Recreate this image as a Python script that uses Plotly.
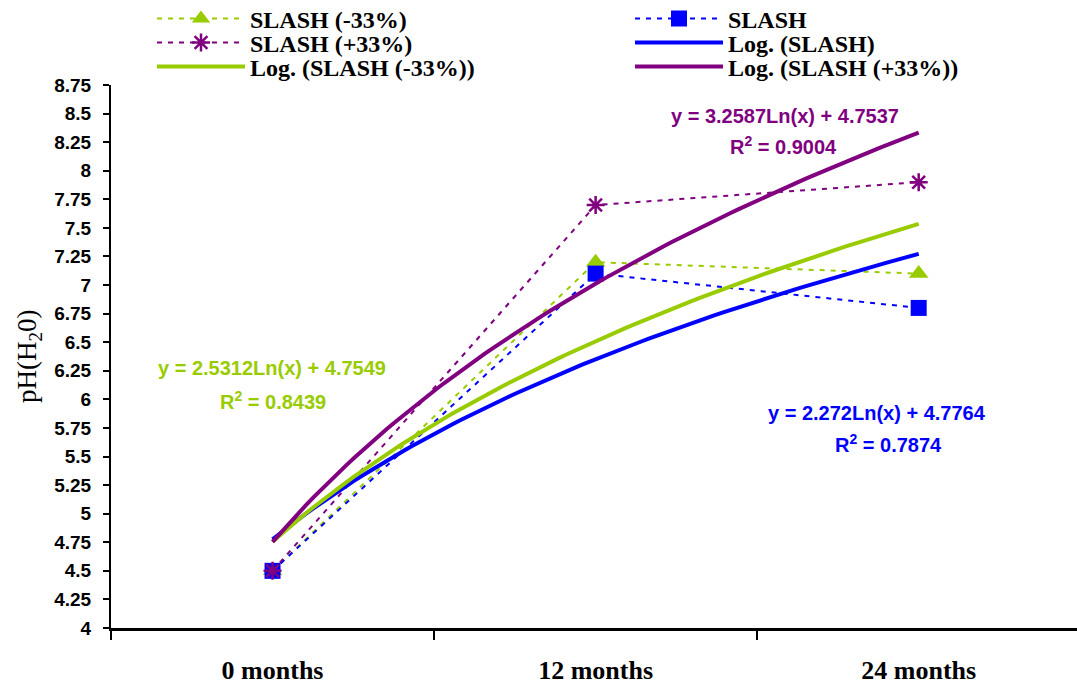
import numpy as np
import plotly.graph_objects as go

categories = ["0 months", "12 months", "24 months"]
x_pos = [1, 2, 3]
slash_minus = [4.5, 7.2, 7.1]
slash = [4.5, 7.1, 6.8]
slash_plus = [4.5, 7.7, 7.9]

# logarithmic trendline coefficients (y = a ln(x) + b) as printed on chart
trend_a = {"SLASH": 2.272, "SLASH (-33%)": 2.5312, "SLASH (+33%)": 3.2587}
trend_b = {"SLASH": 4.7764, "SLASH (-33%)": 4.7549, "SLASH (+33%)": 4.7537}
r2 = {"SLASH": 0.7874, "SLASH (-33%)": 0.8439, "SLASH (+33%)": 0.9004}

GREEN = "#99CC00"
BLUE = "#0000FF"
PURPLE = "#800080"

W, H = 1077, 689
L, R, T, B = 111, 0, 85, 61
PW, PH = W - L - R, H - T - B

fig = go.Figure()

dash = "5px,6px"
fig.add_trace(go.Scatter(x=x_pos, y=slash_minus, mode="lines+markers", name="SLASH (-33%)",
                         line=dict(color=GREEN, width=2, dash=dash),
                         marker=dict(symbol="triangle-up", size=17, color=GREEN),
                         legend="legend"))
fig.add_trace(go.Scatter(x=x_pos, y=slash, mode="lines+markers", name="SLASH",
                         line=dict(color=BLUE, width=2, dash=dash),
                         marker=dict(symbol="square", size=16, color=BLUE),
                         legend="legend2"))
fig.add_trace(go.Scatter(x=x_pos, y=slash_plus, mode="lines+markers", name="SLASH (+33%)",
                         line=dict(color=PURPLE, width=2, dash=dash),
                         marker=dict(symbol="asterisk-open", size=15, color=PURPLE,
                                     line=dict(color=PURPLE, width=2.5)),
                         legend="legend3"))

xs = np.linspace(1, 3, 80)
for key, col, leg in [("SLASH", BLUE, "legend4"), ("SLASH (-33%)", GREEN, "legend5"),
                      ("SLASH (+33%)", PURPLE, "legend6")]:
    ys = trend_a[key] * np.log(xs) + trend_b[key]
    fig.add_trace(go.Scatter(x=xs, y=ys, mode="lines", name=f"Log. ({key})",
                             line=dict(color=col, width=4), legend=leg))

ann_font = dict(family="Liberation Sans, Arial", size=20)
def eq_ann(key, col, x, y1, y2, x2=None):
    fig.add_annotation(x=x, y=y1, xref="x", yref="y", showarrow=False,
                       text=f"<b>y = {trend_a[key]}Ln(x) + {trend_b[key]}</b>",
                       font=dict(ann_font, color=col))
    fig.add_annotation(x=x2 if x2 is not None else x, y=y2, xref="x", yref="y", showarrow=False,
                       text=f"<b>R<sup>2</sup> = {r2[key]:.4f}</b>",
                       font=dict(ann_font, color=col))

eq_ann("SLASH (+33%)", PURPLE, 2.587, 8.479, 8.225, 2.58)
eq_ann("SLASH (-33%)", GREEN, 0.998, 6.274, 5.994, 1.0)
eq_ann("SLASH", BLUE, 2.871, 5.880, 5.618, 2.906)

# y-axis title
fig.add_annotation(x=(10 - L) / PW, y=(H - B - 357) / PH, xref="paper", yref="paper",
                   text="pH(H<sub>2</sub>0)", textangle=-90, showarrow=False,
                   font=dict(family="Liberation Serif, Times New Roman", size=27, color="black"))

leg_font = dict(family="Liberation Serif, Times New Roman", size=24, color="black")

def leg(px, py):
    return dict(x=(px - L) / PW, y=(H - B - py) / PH, xanchor="left", yanchor="middle",
                font=leg_font, itemwidth=88, bgcolor="rgba(0,0,0,0)", borderwidth=0)

fig.update_layout(
    width=W, height=H,
    margin=dict(l=L, r=R, t=T, b=B, autoexpand=False),
    plot_bgcolor="white", paper_bgcolor="white",
    showlegend=True,
    legend=leg(152, 19),
    legend3=leg(152, 43),
    legend5=leg(152, 67),
    legend2=leg(630, 19),
    legend4=leg(630, 43),
    legend6=leg(630, 67),
    xaxis=dict(range=[0.5, 3.49], tickvals=[0.5, 1.5, 2.5, 3.5], showticklabels=False,
               ticks="outside", ticklen=9, tickwidth=2, tickcolor="black",
               showline=True, linecolor="black", linewidth=3, showgrid=False, zeroline=False),
    xaxis2=dict(range=[0.5, 3.49], overlaying="x", side="bottom", tickvals=x_pos,
                ticktext=[f"<b>{c}</b>" for c in categories], ticks="", showline=False,
                showgrid=False, zeroline=False, ticklabelstandoff=24,
                tickfont=dict(family="Liberation Serif, Times New Roman", size=26, color="black")),
    yaxis=dict(range=[4, 8.75], tickvals=[4 + 0.25 * i for i in range(20)],
               ticktext=[f"<b>{(4 + 0.25 * i):g}</b>" for i in range(20)],
               ticks="outside", ticklen=6, tickwidth=2, tickcolor="black", ticklabelstandoff=8,
               showline=True, linecolor="black", linewidth=2, showgrid=False, zeroline=False,
               tickfont=dict(family="Liberation Sans, Arial", size=19, color="black")),
)
# invisible trace to activate xaxis2 (category labels)
fig.add_trace(go.Scatter(x=x_pos, y=[None] * 3, xaxis="x2", showlegend=False, hoverinfo="skip"))

for tr in fig.data:
    if tr.name:
        tr.name = f"<b>{tr.name}</b>"

fig.write_html("out.html")
